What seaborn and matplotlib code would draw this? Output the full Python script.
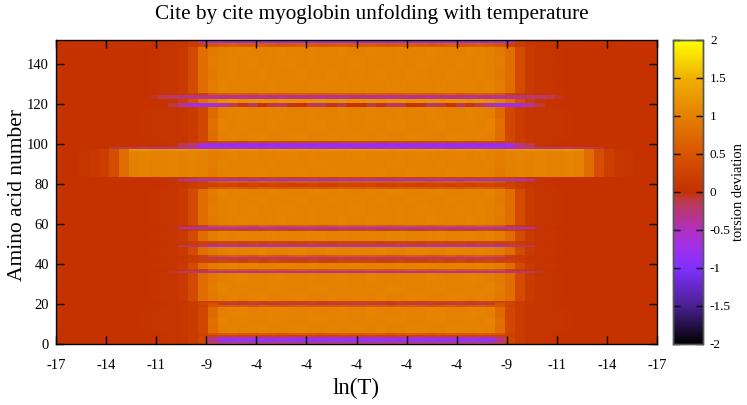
import numpy as np
import pandas as pd
import matplotlib
matplotlib.use('Agg')
import matplotlib.pyplot as plt
import seaborn as sns
from matplotlib.colors import LinearSegmentedColormap

title = 'Cite by cite myoglobin unfolding with temperature'
x_labels = ['-17', '-14', '-11', '-9', '-4', '-4', '-4', '-4', '-4', '-9', '-11', '-14', '-17']
y_ticks = [0, 20, 40, 60, 80, 100, 120, 140]
cbar_ticks = [-2, -1.5, -1, -0.5, 0, 0.5, 1, 1.5, 2]

# left half of each row, columns run outside -> centre, right half is the mirror
edge_wide = [.03, .03, .03, .03, .03, .03, .03, .03, .03, .03, .04, .05, .05, .12, .38, .78]
edge_narrow = [.03, .03, .03, .03, .03, .03, .03, .03, .03, .04, .05, .05, .05, .08, .15, .32]
edge_big = [.03, .03, .03, .06, .1, .2, .4, .78, 1.0, 1.03, 1.01, 1.0, 1.03, 1.0, 1.02, 1.0]
edge_flat = [.03, .03, .03, .03, .03, .03, .03, .03, .03, .03, .03, .04, .05, .08, .15, .25]

centre_a = [.93, 1.0, 1.02, 1.0, 1.02, 1.04, 1.01, 1.0, 1.02, 1.03, 1.0, 1.01, 1.03, 1.01, 1.02]
centre_b = [.96, 1.03, 1.01, 1.02, 1.0, 1.01, 1.03, 1.02, 1.0, 1.01, 1.03, 1.04, 1.0, 1.02, 1.01]
centre_c = [.92, .99, 1.02, 1.03, 1.01, 1.0, 1.02, 1.04, 1.01, 1.0, 1.02, 1.0, 1.01, 1.03, 1.0]
centre_d = [.95, 1.01, 1.04, 1.01, 1.03, 1.01, 1.0, 1.02, 1.04, 1.01, 1.02, 1.01, 1.0, 1.01, 1.03]
centre_bright = [1.1, 1.15, 1.2, 1.18, 1.2, 1.15, 1.18, 1.2, 1.15, 1.2, 1.18, 1.15, 1.2, 1.18, 1.2]
centre_dim = [.5, .55, .6, .55, .5, .6, .55, .5, .55, .6, .55, .5, .55, .6, .55]
centre_dark = [.25, .3, .28, .22, .3, .25, .3, .28, .22, .25, .3, .25, .22, .3, .28]

profiles = {
    'wide_a': edge_wide + centre_a,
    'wide_b': edge_wide + centre_b,
    'wide_c': edge_wide + centre_c,
    'wide_d': edge_wide + centre_d,
    'narrow_a': edge_narrow + [.78] + centre_a[1:],
    'narrow_b': edge_narrow + [.8] + centre_b[1:],
    'narrow_c': edge_narrow + [.76] + centre_c[1:],
    'big_a': edge_big + centre_a,
    'big_b': edge_big + centre_b,
    'big_c': edge_big + centre_d,
    'big_top': edge_big[:8] + [1.2, 1.22, 1.2, 1.18, 1.2, 1.22, 1.18, 1.2] + centre_bright,
    'dim': edge_flat + centre_dim,
    'dark': edge_flat + centre_dark,
    'purple_short': edge_flat[:14] + [.15, .3, -.35] + [-.78, -.8, -.75, -.8, -.78, -.8, -.75, -.8, -.78, -.8, -.75, -.8, -.78, -.8],
    'purple_top': edge_flat[:14] + [.2, -.65, -.7] + [-.7, -.75, -.72, -.7, -.75, -.7, -.72, -.75, -.7, -.72, -.75, -.7, -.72, -.7],
    'purple_thick': edge_flat[:12] + [.05, -.12, -.25, -.7, -.8] + [-.82, -.85, -.8, -.82, -.85, -.8, -.85, -.82, -.8, -.85, -.82, -.85, -.8, -.82],
    'purple_row': [.03, .03, .03, .03, .03, .03, .03, .03, .03, .03, .03, .03, -.05, -.45, -.7, -.75, -.8] + [-.72, -.78, -.7, -.8, -.75, -.7, -.78, -.72, -.8, -.75, -.7, -.78, -.72, -.75],
    'purple_weak': [.03, .03, .03, .03, .03, .03, .03, .03, .03, .03, .03, .03, .05, -.12, -.2, -.3, -.7] + [-.6, -.55, -.65, -.5, -.6, -.7, -.55, -.6, -.5, -.65, -.55, -.6, -.5, -.6],
    'magenta_long': [.03, .03, .03, .03, .03, .03, .03, .03, .03, .03, .03, .03, -.06, -.2, -.3, -.35, -.38] + [-.4, -.35, -.38, -.42, -.35, -.4, -.38, -.35, -.42, -.38, -.35, -.4, -.38, -.42],
    'magenta_mid': edge_flat[:14] + [.15, -.08, -.2] + [-.3, -.25, -.32, -.28, -.25, -.32, -.3, -.28, -.25, -.32, -.3, -.25, -.28, -.3],
    'magenta_dark': edge_flat[:14] + [.15, .3, .5] + [-.1, -.18, -.12, -.2, -.15, -.1, -.18, -.2, -.12, -.15, -.1, -.18, -.12, -.2],
    'magenta_top': [.03, .03, .03, .03, .03, .03, .03, .03, .03, .03, -.05, -.12, -.18, -.25, -.3, -.32, -.35] + [-.35, -.3, -.38, -.32, -.35, -.3, -.38, -.32, -.35, -.3, -.38, -.32, -.35, -.3],
    'purple_mix': [.03, .03, .03, .03, .03, .03, .03, .03, .03, .03, .03, .03, -.1, -.4, -.7, -.7, -.7, -.45] + [-.15, -.05, -.2, .02, -.12, -.2, -.05, .02, -.15, -.2, -.05, -.12, .02],
    'long_thin': [.03, .03, .03, .03, .03, .03, -.1, -.15, -.2, -.25, -.3, -.32, -.35, -.4, -.5, -.7] + [-.6, -.65, -.6, -.62, -.65, -.6, -.62, -.65, -.6, -.62, -.65, -.6, -.62, -.65, -.6],
    'bright_thin': edge_flat[:13] + [.2, .45, .8, 1.0] + [1.15, 1.2, 1.15, 1.2, 1.18, 1.15, 1.2, 1.18, 1.15, 1.2, 1.18, 1.15, 1.2, 1.15],
}

band_first = [0, 1, 4, 5, 6, 10, 14, 19, 20, 21, 22, 26, 31, 36, 37, 38, 41, 43, 44, 45, 49, 50, 52,
              57, 58, 59, 60, 65, 70, 74, 78, 79, 81, 82, 83, 84, 88, 92, 97, 98, 99, 101, 102, 107,
              113, 119, 121, 123, 125, 126, 132, 138, 144, 149, 151]
band_last = [0, 3, 4, 5, 9, 13, 18, 19, 20, 21, 25, 30, 35, 36, 37, 40, 42, 43, 44, 48, 49, 51, 56,
             57, 58, 59, 64, 69, 73, 77, 78, 80, 81, 82, 83, 87, 91, 96, 97, 98, 100, 101, 106, 112,
             118, 120, 122, 124, 125, 131, 137, 143, 148, 150, 152]
band_kind = ['dim', 'purple_short', 'dark', 'dim', 'narrow_a', 'narrow_b', 'narrow_c', 'dim', 'magenta_dark', 'dark',
             'wide_a', 'wide_b', 'wide_c', 'magenta_long', 'dim', 'wide_d', 'dark', 'magenta_mid', 'dim', 'wide_a',
             'purple_weak', 'dark', 'wide_b', 'dark', 'purple_row', 'dim', 'wide_c', 'wide_d', 'wide_a', 'wide_b',
             'dim', 'dark', 'dim', 'purple_row', 'dark', 'big_a', 'big_b', 'big_c', 'big_top', 'long_thin',
             'purple_thick', 'dark', 'narrow_a', 'narrow_b', 'narrow_c', 'purple_mix', 'bright_thin', 'magenta_top',
             'dim', 'wide_b', 'wide_a', 'wide_d', 'wide_c', 'dim', 'purple_top']

rows = {}
for first, last, kind in zip(band_first, band_last, band_kind):
    half = profiles[kind]
    for r in range(first, last + 1):
        rows[r] = half + half[::-1]
df = pd.DataFrame.from_dict(rows, orient='index').sort_index()

cmap = LinearSegmentedColormap.from_list('torsion', [
    (0.0, '#000000'), (0.125, '#4a2090'), (0.25, '#8030ff'), (0.32, '#a030e8'),
    (0.375, '#b030c0'), (0.47, '#bc3a50'), (0.5, '#c43000'), (0.625, '#d85400'),
    (0.75, '#e58000'), (0.875, '#f0b000'), (1.0, '#ffff00')], N=512)

plt.rcParams['font.family'] = ['Liberation Serif', 'DejaVu Serif']
fig = plt.figure(figsize=(7.47, 4.05), dpi=100)
ax = fig.add_axes([56 / 747, 61 / 405, 601 / 747, 304 / 405])
cax = fig.add_axes([673 / 747, 61 / 405, 30 / 747, 304 / 405])

sns.heatmap(df, ax=ax, cbar_ax=cax, cmap=cmap, vmin=-2, vmax=2, xticklabels=False, yticklabels=False)

x0 = 0.646
ax.set_xlim(x0, x0 + 60.7)
ax.set_ylim(0.5, 152.5)
ax.set_xticks(np.linspace(x0, x0 + 60.7, 13))
ax.set_xticklabels(x_labels)
ax.set_yticks([t + 0.5 for t in y_ticks])
ax.set_yticklabels(y_ticks, rotation=0)
ax.tick_params(axis='both', direction='in', length=6, width=1, labelsize=10.5, color='black',
               top=True, right=True, pad=11)
ax.tick_params(axis='y', pad=5)
for s in ax.spines.values():
    s.set_visible(True)
    s.set_linewidth(1)
    s.set_color('black')

ax.set_xlabel('ln(T)', fontsize=16.5, labelpad=4)
ax.set_ylabel('Amino acid number', fontsize=15.5)
ax.yaxis.set_label_coords(-29 / 601, 0.49)
fig.text(372 / 747, 1 - 14 / 405, title, ha='center', va='center', fontsize=15.3)

cax.set_yticks(cbar_ticks)
cax.set_yticklabels(['-2', '-1.5', '-1', '-0.5', '0', '0.5', '1', '1.5', '2'])
cax.tick_params(axis='y', direction='in', length=5, width=1, labelsize=9.5, left=True, right=True, pad=5)
for s in cax.spines.values():
    s.set_visible(True)
    s.set_linewidth(1)
    s.set_color('#555555')
cax.set_ylabel('torsion deviation', fontsize=10.5)
cax.yaxis.set_label_coords(1.98, 0.5)

fig.savefig('out.png', dpi=100)
